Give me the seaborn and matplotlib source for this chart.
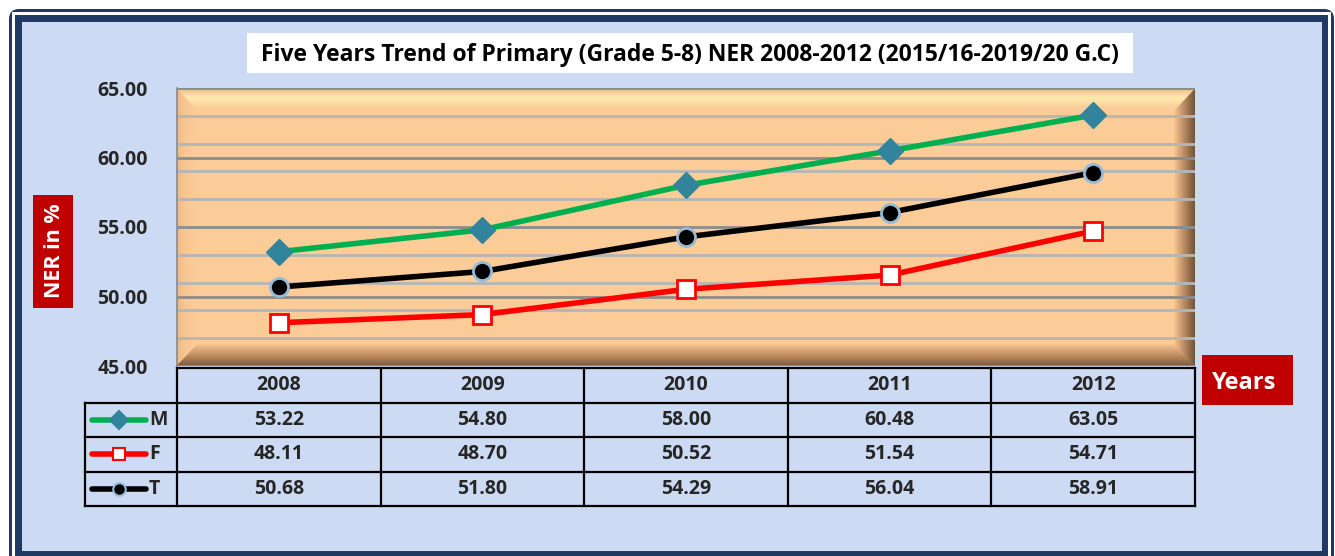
import numpy as np
import pandas as pd
import seaborn as sns
import matplotlib.pyplot as plt
from matplotlib.patches import Rectangle, FancyBboxPatch, Polygon
from matplotlib.colors import to_rgb

years = ['2008', '2009', '2010', '2011', '2012']
male = [53.22, 54.80, 58.00, 60.48, 63.05]
female = [48.11, 48.70, 50.52, 51.54, 54.71]
total = [50.68, 51.80, 54.29, 56.04, 58.91]
series_names = ['M', 'F', 'T']

sns.set_theme(style='white')
plt.rcParams['font.family'] = ['Open Sans', 'DejaVu Sans']
plt.rcParams['font.weight'] = 'bold'

W, H = 1335, 556
fig = plt.figure(figsize=(W / 100, H / 100), dpi=100)

# background / frame in pixel coordinates
bg = fig.add_axes([0, 0, 1, 1], zorder=0)
bg.set_xlim(0, W)
bg.set_ylim(H, 0)
bg.axis('off')
bg.add_patch(FancyBboxPatch((9, 9), 1325, 560, boxstyle='round,pad=0,rounding_size=10',
                            fc='#1F3864', ec='none'))
bg.add_patch(Rectangle((12, 12), 1319, 560, fc='white', ec='none'))
bg.add_patch(Rectangle((15, 15), 1313, 560, fc='#1F3864', ec='none'))
bg.add_patch(Rectangle((22, 22), 1300, 529, fc='#CCDAF3', ec='none'))

# title box
bg.add_patch(Rectangle((247, 33), 886, 40, fc='white', ec='none'))
bg.text(690, 55, 'Five Years Trend of Primary (Grade 5-8) NER 2008-2012 (2015/16-2019/20 G.C)',
        ha='center', va='center', fontsize=16.5, fontweight='bold', color='black')

# axis title boxes
bg.add_patch(Rectangle((33, 195), 40, 113, fc='#C00000', ec='none'))
bg.text(54, 251, 'NER in %', rotation=90, ha='center', va='center',
        fontsize=15.5, fontweight='bold', color='white')
bg.add_patch(Rectangle((1202, 355), 91, 50, fc='#C00000', ec='none'))
bg.text(1244, 383, 'Years', ha='center', va='center',
        fontsize=17, fontweight='bold', color='white')

# main plot
L, R, T_, B_ = 177, 1195, 88, 366
ax = fig.add_axes([L / W, (H - B_) / H, (R - L) / W, (B_ - T_) / H], zorder=2)
face = '#FBCB98'
ax.set_facecolor(face)
x = np.arange(len(years))
ax.set_xlim(-0.5, len(years) - 0.5)
ax.set_ylim(45, 65)


def bevel(side, stops, n=30):
    dx = 20 / (R - L)
    dy = 21 / (B_ - T_)
    pos = np.array([p for p, _ in stops])
    cols = np.array([to_rgb(c) for _, c in stops])
    for k in range(n):
        a, b = k / n, (k + 1) / n
        t = (a + b) / 2
        col = [np.interp(t, pos, cols[:, j]) for j in range(3)]
        if side == 'top':
            pts = [(a * dx, 1 - a * dy), (1 - a * dx, 1 - a * dy), (1 - b * dx, 1 - b * dy), (b * dx, 1 - b * dy)]
        elif side == 'bottom':
            pts = [(a * dx, a * dy), (1 - a * dx, a * dy), (1 - b * dx, b * dy), (b * dx, b * dy)]
        elif side == 'left':
            pts = [(a * dx, a * dy), (a * dx, 1 - a * dy), (b * dx, 1 - b * dy), (b * dx, b * dy)]
        else:
            pts = [(1 - a * dx, a * dy), (1 - a * dx, 1 - a * dy), (1 - b * dx, 1 - b * dy), (1 - b * dx, b * dy)]
        ax.add_patch(Polygon(pts, closed=True, transform=ax.transAxes, fc=col, ec=col,
                             lw=0.5, zorder=0.2))


bevel('left', [(0, '#EDB781'), (0.4, '#F8C692'), (1, face)])
bevel('right', [(0, '#6E5034'), (0.35, '#9C7450'), (1, '#F3BE8A')])
bevel('bottom', [(0, '#7A5536'), (0.4, '#B08056'), (1, '#F4BF8C')])
bevel('top', [(0, '#E9B47E'), (0.3, '#FCD8A0'), (0.5, '#FFEBAD'), (0.75, '#FDDAA4'), (1, face)])

ax.set_axisbelow(True)
ax.set_yticks([45, 50, 55, 60, 65])
ax.set_yticks(np.arange(47, 65, 2), minor=True)
ax.grid(which='major', axis='y', color='#8C8C8C', lw=2, zorder=0.5)
ax.grid(which='minor', axis='y', color='#B5B5B5', lw=2, zorder=0.5)
ax.set_yticklabels([f'{v:.2f}' for v in [45, 50, 55, 60, 65]], fontsize=14, fontweight='bold')
ax.tick_params(axis='y', which='both', length=0, pad=21)
ax.set_xticks([])
for s in ax.spines.values():
    s.set_visible(False)
ax.spines['left'].set_visible(True)
ax.spines['left'].set_color('#8A8A8A')
ax.spines['left'].set_linewidth(1.2)

styles = {
    'M': dict(data=male, color='#00B050', marker='D', markersize=13, mfc='#31849B', mec='#31849B', mew=1),
    'F': dict(data=female, color='#FF0000', marker='s', markersize=13, mfc='white', mec='#FF0000', mew=2),
    'T': dict(data=total, color='black', marker='o', markersize=13, mfc='black', mec='#93BCD6', mew=2),
}
df = pd.DataFrame({'pos': x, 'M': male, 'F': female, 'T': total})
for name in series_names:
    st = styles[name]
    sns.lineplot(data=df, x='pos', y=name, ax=ax, color=st['color'], lw=4,
                 marker=st['marker'], markersize=st['markersize'],
                 markerfacecolor=st['mfc'], markeredgecolor=st['mec'],
                 markeredgewidth=st['mew'], zorder=3, clip_on=False)
ax.set_xlabel('')
ax.set_ylabel('')
ax.set_xlim(-0.5, len(years) - 0.5)

# data table below the plot
TT, TB = 368, 506
tax = fig.add_axes([L / W, (H - TB) / H, (R - L) / W, (TB - TT) / H], zorder=2)
tax.set_xlim(-0.5, len(years) - 0.5)
tax.set_ylim(4, 0)
tax.axis('off')
col_w = (R - L) / len(years)
left_edge = -0.5 - (L - 85) / col_w
lk = dict(color='black', lw=1.6, clip_on=False, solid_capstyle='projecting')
tax.plot([-0.5, len(years) - 0.5], [0, 0], **lk)
for r in [1, 2, 3, 4]:
    tax.plot([left_edge, len(years) - 0.5], [r, r], **lk)
for c in range(len(years) + 1):
    tax.plot([c - 0.5, c - 0.5], [0, 4], **lk)
tax.plot([left_edge, left_edge], [1, 4], **lk)

for i, yr in enumerate(years):
    tax.text(i, 0.5, yr, ha='center', va='center', fontsize=14, fontweight='bold')
for r, name in enumerate(series_names, start=1):
    st = styles[name]
    for i, v in enumerate(st['data']):
        tax.text(i, r + 0.5, f'{v:.2f}', ha='center', va='center', fontsize=14, fontweight='bold')
    x0 = -0.5 - (L - 92) / col_w
    x1 = -0.5 - (L - 146) / col_w
    xm = -0.5 - (L - 119) / col_w
    tax.plot([x0, x1], [r + 0.5, r + 0.5], color=st['color'], lw=4, clip_on=False,
             solid_capstyle='round')
    tax.plot([xm], [r + 0.5], marker=st['marker'], markersize=9, mfc=st['mfc'],
             mec=st['mec'], mew=1.5, clip_on=False, ls='none')
    tax.text(-0.5 - (L - 149) / col_w, r + 0.5, name, ha='left', va='center',
             fontsize=14, fontweight='bold')

fig.savefig('out.png', dpi=100)
